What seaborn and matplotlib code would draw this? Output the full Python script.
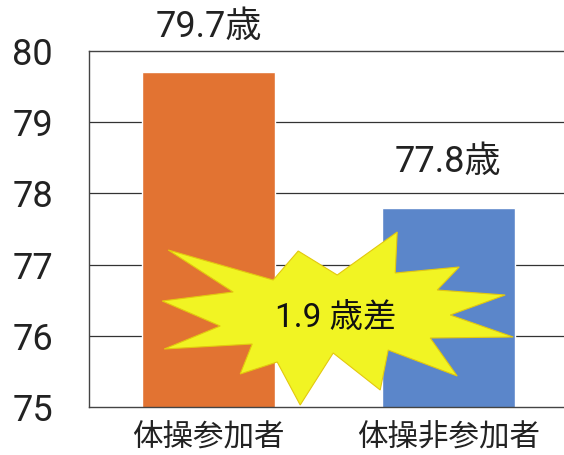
import matplotlib
matplotlib.use("Agg")
import matplotlib.pyplot as plt
from matplotlib.patches import Polygon
from matplotlib.transforms import Affine2D
import seaborn as sns

groups = ["体操参加者", "体操非参加者"]
ages = [79.7, 77.8]
colors = ["#E27332", "#5B86CA"]
yticks = [75, 76, 77, 78, 79, 80]

sns.set_theme(style="white")
plt.rcParams["font.family"] = ["Roboto", "Noto Sans CJK JP", "DejaVu Sans"]
cjk = ["Noto Sans CJK JP", "DejaVu Sans"]

fig = plt.figure(figsize=(5.64, 4.55), dpi=100)
ax = fig.add_axes([89 / 564, 1 - 407 / 455, (568 - 89) / 564, 356 / 455])

sns.barplot(x=groups, y=ages, hue=groups, palette=colors, width=0.555,
            saturation=1, legend=False, ax=ax, zorder=2)

ax.set_ylim(75, 80)
ax.set_xlim(-0.5, 1.5)
ax.set_yticks(yticks)
ax.set_yticklabels([str(t) for t in yticks], fontsize=26, color="#222222")
ax.set_xticks(range(len(groups)))
ax.set_xticklabels(groups, fontsize=22, color="#222222", family=cjk)
ax.tick_params(axis="y", length=0, pad=26)
ax.tick_params(axis="x", length=0, pad=11)
ax.set_xlabel("")
ax.set_ylabel("")

for t in yticks[1:-1]:
    ax.axhline(t, color="#333333", lw=0.9, zorder=1)

for side in ["left", "top", "bottom"]:
    ax.spines[side].set_color("#444444")
    ax.spines[side].set_linewidth(1.0)
ax.spines["right"].set_visible(False)

# value labels above each bar
for i, v in enumerate(ages):
    ax.annotate(f"{v}歳", (i, v), xytext=(0, 33), textcoords="offset points",
                ha="center", va="center", fontsize=26, color="#222222")

# burst shape behind the difference label (pixel offsets from its centre)
burst = [(-167, 68), (-62, 38), (-37, 67), (2, 43), (62, 86), (60, 45),
         (124, 51), (102, 28), (170, 23), (115, 3), (178, -19), (95, -20),
         (122, -58), (53, -32), (45, -72), (-2, -35), (-35, -87), (-58, -44),
         (-95, -56), (-83, -26), (-171, -31), (-115, -8), (-173, 17), (-102, 26)]
diff = round(ages[0] - ages[1], 1)
cx, cy = 0.528, 76.25
px, py = ax.transData.transform((cx, cy))
star = Polygon(burst, closed=True, facecolor="#F1F423", edgecolor="#E3C80E",
               lw=0.8, transform=Affine2D().translate(px, py), zorder=3,
               clip_on=False)
ax.add_patch(star)
ax.text(cx, cy, f"{diff} 歳差", ha="center", va="center", fontsize=24,
        color="#111111", zorder=4)

fig.savefig("out.png", dpi=100)
